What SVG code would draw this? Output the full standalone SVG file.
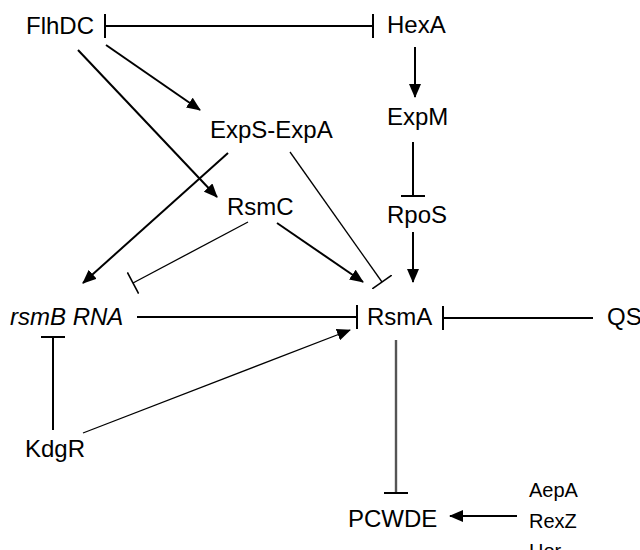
<svg xmlns="http://www.w3.org/2000/svg" width="640" height="550" viewBox="0 0 640 550">
  <defs>
    <marker id="arrow" viewBox="0 0 14 12" refX="13" refY="6" markerWidth="14" markerHeight="12" markerUnits="userSpaceOnUse" orient="auto">
      <path d="M0,0 L14,6 L0,12 z" fill="#000"/>
    </marker>
    <marker id="bar" viewBox="0 0 4 24" refX="2" refY="12" markerWidth="4" markerHeight="24" markerUnits="userSpaceOnUse" orient="auto">
      <path d="M2,0 V24" stroke="#000" stroke-width="2"/>
    </marker>
    <marker id="barThin" viewBox="0 0 4 24" refX="2" refY="12" markerWidth="4" markerHeight="24" markerUnits="userSpaceOnUse" orient="auto">
      <path d="M2,0 V24" stroke="#000" stroke-width="1.6"/>
    </marker>
  </defs>
  <style>
    text { font-family: "Liberation Sans", Arial, sans-serif; font-size: 24px; fill: #000; }
    .small { font-size: 20px; }
    .it { font-style: italic; }
    .edge { fill: none; stroke: #000; stroke-width: 2; }
    .thin { stroke-width: 1.3; }
    .gray { stroke: #555; stroke-width: 2.4; }
    .act { marker-end: url(#arrow); }
    .inh { marker-end: url(#bar); }
    .inhThin { marker-end: url(#barThin); }
  </style>
  <rect width="640" height="550" fill="#fff"/>

  <g id="connectors">
    <!-- FlhDC and HexA repress each other -->
    <line class="edge" x1="105" y1="26" x2="373" y2="26" marker-start="url(#bar)" marker-end="url(#bar)"/>
    <line class="edge act" x1="415" y1="47" x2="415" y2="97"/>
    <line class="edge inh" x1="413" y1="142" x2="413" y2="196"/>
    <line class="edge act" x1="413" y1="232" x2="413" y2="282"/>
    <line class="edge act" x1="106" y1="45" x2="200" y2="110"/>
    <line class="edge act" x1="78" y1="50" x2="217" y2="197"/>
    <line class="edge act" x1="228" y1="153" x2="83" y2="283"/>
    <line class="edge thin inhThin" x1="290" y1="152" x2="382" y2="282"/>
    <line class="edge act" x1="277" y1="223" x2="363" y2="282"/>
    <line class="edge thin inhThin" x1="248" y1="222" x2="133" y2="283"/>
    <line class="edge inh" x1="137" y1="317" x2="357" y2="317"/>
    <line class="edge inh" x1="593" y1="318" x2="443" y2="318"/>
    <line class="edge thin act" x1="83" y1="433" x2="350" y2="330"/>
    <line class="edge inh" x1="53" y1="430" x2="53" y2="337"/>
    <line class="edge gray inh" x1="396" y1="340" x2="396" y2="493"/>
    <line class="edge act" x1="517" y1="516" x2="450" y2="516"/>
  </g>

  <g id="FlhDC"><text x="26" y="34">FlhDC</text></g>
  <g id="HexA"><text x="387" y="33">HexA</text></g>
  <g id="ExpM"><text x="387" y="125">ExpM</text></g>
  <g id="ExpS-ExpA"><text x="210" y="138">ExpS-ExpA</text></g>
  <g id="RsmC"><text x="227" y="215">RsmC</text></g>
  <g id="RpoS"><text x="387" y="223">RpoS</text></g>
  <g id="rsmB"><text class="it" x="10" y="325">rsmB RNA</text></g>
  <g id="RsmA"><text x="367" y="325">RsmA</text></g>
  <g id="QS"><text x="607" y="325">QS</text></g>
  <g id="KdgR"><text x="25" y="457">KdgR</text></g>
  <g id="PCWDE"><text x="348" y="527">PCWDE</text></g>
  <g id="regulators">
    <text class="small" x="529" y="497">AepA</text>
    <text class="small" x="529" y="528">RexZ</text>
    <text class="small" x="529" y="558">Hor</text>
  </g>
</svg>
